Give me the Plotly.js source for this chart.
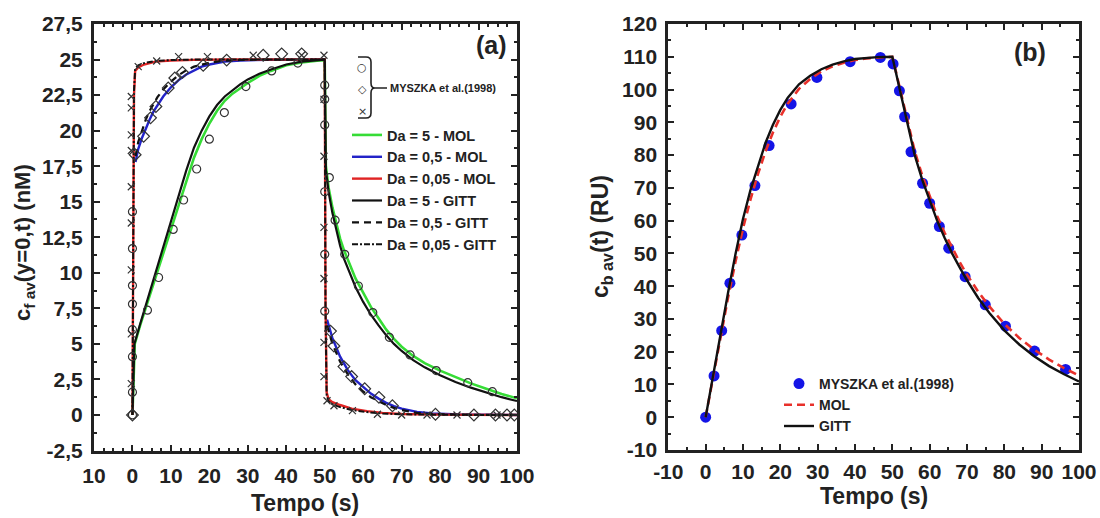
<!DOCTYPE html>
<html>
<head>
<meta charset="utf-8">
<script src="https://cdn.plot.ly/plotly-3.0.1.min.js"></script>
<style>html,body{margin:0;padding:0;background:#fff;}#chart{width:1100px;height:518px;}</style>
</head>
<body>
<div id="chart"></div>
<script>
// ---------- Panel (a) data ----------
const tA_mol5 = [0, 0.6, 2, 4, 6, 8, 10, 12, 14, 16, 18, 20, 22, 24, 26, 28, 30, 33, 36, 40, 44, 48, 50, 50.3, 51, 52, 53, 54, 55, 56, 58, 60, 62, 64, 66, 68, 70, 73, 76, 80, 84, 88, 92, 96, 100];
const cA_mol5 = [0, 5.0, 6.3, 8.0, 9.7, 11.4, 13.05, 14.7, 16.5, 18.1, 19.4, 20.5, 21.4, 22.1, 22.6, 23.0, 23.35, 23.85, 24.2, 24.6, 24.8, 24.92, 24.95, 17.5, 16.0, 14.6, 13.4, 12.4, 11.6, 10.9, 9.6, 8.6, 7.6, 6.8, 6.0, 5.35, 4.8, 4.15, 3.65, 3.12, 2.65, 2.22, 1.85, 1.48, 1.17];
const tA_gitt5 = [0, 0.5, 2, 4, 6, 8, 10, 12, 14, 16, 18, 20, 22, 24, 26, 28, 30, 33, 36, 40, 44, 48, 50, 50.3, 51, 52, 53, 54, 55, 56, 58, 60, 62, 64, 66, 68, 70, 73, 76, 80, 84, 88, 92, 96, 100];
const cA_gitt5 = [0, 5.0, 6.4, 8.2, 10.0, 11.9, 13.7, 15.5, 17.2, 18.8, 20.0, 21.0, 21.8, 22.4, 22.85, 23.25, 23.6, 24.0, 24.3, 24.65, 24.85, 24.95, 25.0, 17.2, 15.7, 14.2, 12.95, 11.9, 11.0, 10.3, 9.0, 7.95, 7.05, 6.3, 5.6, 5.0, 4.5, 3.85, 3.35, 2.8, 2.32, 1.92, 1.58, 1.25, 0.98];
const tA_mol05 = [0.8, 1.5, 2.5, 3.5, 4.5, 5.5, 6.5, 8, 10, 12, 14, 16, 18, 20, 24, 28, 35, 50, 50.3, 50.6, 52, 54, 56, 58, 60, 62, 64, 66, 68, 70, 74, 78, 85, 100];
const cA_mol05 = [17.8, 18.7, 19.5, 20.2, 20.8, 21.35, 21.8, 22.4, 23.05, 23.55, 23.95, 24.25, 24.5, 24.65, 24.85, 24.93, 24.98, 25.0, null, 6.7, 5.4, 4.1, 3.15, 2.45, 1.95, 1.5, 1.15, 0.85, 0.62, 0.45, 0.22, 0.1, 0.03, 0];
const cA_gitt05 = [18.2, 19.2, 20.0, 20.8, 21.4, 21.9, 22.35, 22.9, 23.45, 23.9, 24.25, 24.5, 24.65, 24.78, 24.92, 24.97, 25.0, 25.0, null, 6.3, 5.0, 3.75, 2.85, 2.15, 1.65, 1.25, 0.95, 0.7, 0.5, 0.35, 0.15, 0.06, 0.02, 0];
const tA_mol005 = [0, 0.2, 0.4, 0.7, 1.5, 3, 6, 10, 16, 25, 50, 50.2, 50.5, 51, 52, 54, 57, 61, 65, 70, 80, 100];
const cA_mol005 = [0, 12, 22.5, 24.2, 24.45, 24.65, 24.85, 24.93, 24.98, 25, 25, 8, 1.6, 1.1, 0.9, 0.7, 0.45, 0.27, 0.15, 0.07, 0.02, 0];
const cA_gitt005 = [0, 12.5, 22.8, 24.35, 24.6, 24.75, 24.9, 24.96, 25, 25, 25, 7.5, 1.4, 0.95, 0.75, 0.55, 0.35, 0.2, 0.1, 0.05, 0.01, 0];

// MYSZKA et al. (1998) experimental points, panel (a)
const tA_circ = [0, 0, 0, 0, 0, 0, 0, 0, 3.9, 6.8, 10.6, 13.3, 16.7, 20.0, 23.9, 29.5, 36.2, 43.0, 50, 50, 50, 50, 50, 50, 51.2, 52.7, 55.2, 58.75, 62.5, 66.8, 72.2, 79.0, 87.2, 93.6];
const cA_circ = [0, 1.6, 4.1, 6.0, 7.8, 9.1, 11.7, 14.3, 7.37, 9.67, 13.05, 15.12, 17.3, 19.4, 21.27, 23.1, 24.2, 24.75, 23.2, 22.2, 20.4, 15.7, 11.3, 7.3, 16.7, 13.7, 11.3, 9.07, 7.2, 5.46, 4.22, 3.12, 2.27, 1.64];
const tA_diam = [0, 0.7, 2.9, 4.7, 6.1, 9.3, 11.0, 13.0, 18.4, 24.5, 34, 38.8, 44, 51.5, 52.4, 55.0, 57.0, 60.4, 64.1, 67.6, 78.8, 88.8, 94.4, 97.4, 99.3];
const cA_diam = [0, 18.3, 19.6, 20.9, 21.7, 23.0, 23.7, 24.1, 24.6, 24.96, 25.3, 25.4, 25.4, 5.9, 4.85, 3.4, 2.7, 1.84, 1.24, 0.65, 0.05, 0, 0, 0, 0];
const tA_cross = [-0.3, -0.3, -0.3, -0.3, -0.3, -0.3, -0.3, -0.3, -0.3, 1.5, 6.3, 12, 19.5, 31.4, 44, 49.8, 49.8, 49.8, 49.8, 49.8, 49.8, 49.8, 50.6, 52.4, 57.2, 63.7, 70, 76.6, 84.4, 94.8];
const cA_cross = [2.2, 5.7, 10.2, 13.5, 16.05, 18.6, 19.7, 21.6, 22.4, 24.5, 24.9, 25.2, 25.2, 25.3, 25.3, 25.3, 22.2, 18.2, 13.2, 9.6, 5.1, 2.7, 1.0, 0.65, 0.3, 0.05, 0, 0, 0, 0];

const xTickA = [-10, 0, 10, 20, 30, 40, 50, 60, 70, 80, 90, 100];
const xTickTextA = ['10', '0', '10', '20', '30', '40', '50', '60', '70', '80', '90', '100'];
const yTickA = [-2.5, 0, 2.5, 5, 7.5, 10, 12.5, 15, 17.5, 20, 22.5, 25, 27.5];
const yTickTextA = ['-2,5', '0', '2,5', '5', '7,5', '10', '12,5', '15', '17,5', '20', '22,5', '25', '27,5'];

// ---------- Panel (b) data ----------
const tB_data = [0, 2.25, 4.3, 6.5, 9.7, 13.2, 17.0, 22.9, 29.8, 38.7, 46.8, 50.2, 51.9, 53.3, 55.0, 58.1, 60.0, 62.6, 65.1, 69.5, 74.9, 80.3, 88.1, 96.4];
const cB_data = [0, 12.6, 26.4, 40.9, 55.6, 70.7, 82.9, 95.6, 103.7, 108.5, 109.8, 107.8, 99.6, 91.7, 81.0, 71.4, 65.3, 58.2, 51.6, 42.9, 34.3, 27.8, 20.2, 14.6];
const tB_model = [0, 2, 4, 6, 8, 10, 12, 14, 16, 18, 20, 22, 25, 28, 31, 34, 37, 40, 43, 46, 50, 51, 52, 53, 54, 55, 56, 58, 60, 62, 64, 66, 68, 70, 73, 76, 80, 84, 88, 92, 96, 100];
const cB_gitt = [0, 12.8, 25.6, 38, 49.8, 60.5, 69.3, 76.8, 83.6, 89.2, 93.8, 97.5, 101.6, 104.2, 106.2, 107.6, 108.6, 109.3, 109.7, 109.9, 110.0, 105, 99.8, 94.6, 89.2, 84.2, 80, 72.5, 66, 60, 54.8, 50, 45.8, 41.8, 36.4, 31.8, 26.5, 22.2, 18.6, 15.6, 13.1, 10.9];
const cB_mol = [0, 12.3, 24.5, 36.5, 47.5, 57.6, 66.4, 74.2, 81.0, 86.8, 91.7, 95.7, 100.2, 103.2, 105.5, 107.1, 108.2, 109.0, 109.5, 109.8, 110.0, 105.3, 100.3, 95.4, 90.3, 85.5, 81.2, 73.8, 67.3, 61.4, 56.3, 51.6, 47.4, 43.5, 38.3, 33.8, 28.5, 24.2, 20.6, 17.6, 15.0, 12.7];

const xTickB = [-10, 0, 10, 20, 30, 40, 50, 60, 70, 80, 90, 100];
const xTickTextB = ['-10', '0', '10', '20', '30', '40', '50', '60', '70', '80', '90', '100'];
const yTickB = [-10, 0, 10, 20, 30, 40, 50, 60, 70, 80, 90, 100, 110, 120];
const yTickTextB = ['-10', '0', '10', '20', '30', '40', '50', '60', '70', '80', '90', '100', '110', '120'];

// ---------- styling ----------
const INK = '#222';
const FONT = 'Liberation Sans, Arial, sans-serif';
const W = 1100, H = 518;
const px = v => v / W;
const py = v => 1 - v / H;

function axis(extra) {
  return Object.assign({
    showline: true, linewidth: 3, linecolor: INK, mirror: 'ticks',
    ticks: 'inside', ticklen: 6, tickwidth: 2, tickcolor: INK,
    showgrid: false, zeroline: false, fixedrange: true,
    tickfont: {family: FONT, size: 21, color: INK, weight: 'bold'},
    tickmode: 'array'
  }, extra);
}

const lineA = (x, y, name, color, dash, width) => ({
  x, y, name, type: 'scatter', mode: 'lines', xaxis: 'x', yaxis: 'y', legend: 'legend',
  connectgaps: false, line: {color, width: width || 2.4, dash: dash || 'solid'}
});
const mk = (x, y, symbol, size) => ({
  x, y, type: 'scatter', mode: 'markers', xaxis: 'x', yaxis: 'y', showlegend: false,
  marker: {symbol, size, color: '#333', line: {color: '#333', width: 1.2}}
});

const traces = [
  lineA(tA_mol5, cA_mol5, 'Da = 5 - MOL', '#36dc36', 'solid', 2.6),
  lineA(tA_mol05, cA_mol05, 'Da = 0,5 - MOL', '#2323c8', 'solid', 2.4),
  lineA(tA_mol005, cA_mol005, 'Da = 0,05 - MOL', '#e02424', 'solid', 2.4),
  lineA(tA_gitt5, cA_gitt5, 'Da = 5 - GITT', '#111', 'solid', 2.2),
  lineA(tA_mol05, cA_gitt05, 'Da = 0,5 - GITT', '#111', '7px,5px', 2.2),
  lineA(tA_mol005, cA_gitt005, 'Da = 0,05 - GITT', '#111', '6px,2px,2px,2px', 2.0),
  mk(tA_circ, cA_circ, 'circle-open', 8),
  mk(tA_diam, cA_diam, 'diamond-open', 9),
  mk(tA_cross, cA_cross, 'x-thin-open', 7),
  {x: tB_data, y: cB_data, name: 'MYSZKA et al.(1998)', type: 'scatter', mode: 'markers',
   xaxis: 'x2', yaxis: 'y2', legend: 'legend2', marker: {symbol: 'circle', size: 11, color: '#1414e6'}},
  {x: tB_model, y: cB_mol, name: 'MOL', type: 'scatter', mode: 'lines',
   xaxis: 'x2', yaxis: 'y2', legend: 'legend2', line: {color: '#e8302a', width: 2.6, dash: '8px,5px'}},
  {x: tB_model, y: cB_gitt, name: 'GITT', type: 'scatter', mode: 'lines',
   xaxis: 'x2', yaxis: 'y2', legend: 'legend2', line: {color: '#111', width: 2.4}}
];

const bracePath = (() => {
  const P = (x, y) => px(x).toFixed(5) + ',' + py(y).toFixed(5);
  return 'M' + P(358, 57) + ' L' + P(366, 57) + ' Q' + P(371, 57) + ' ' + P(371, 62) +
    ' L' + P(371, 83) + ' Q' + P(371, 88) + ' ' + P(375, 88) + ' L' + P(387, 88) +
    ' M' + P(375, 88) + ' Q' + P(371, 88) + ' ' + P(371, 93) + ' L' + P(371, 113) +
    ' Q' + P(371, 118) + ' ' + P(366, 118) + ' L' + P(358, 118);
})();

const bold = (size) => ({family: FONT, size, color: INK, weight: 'bold'});
const ann = (text, x, y, size, extra) => Object.assign({
  text, x: px(x), y: py(y), xref: 'paper', yref: 'paper', showarrow: false,
  font: bold(size), xanchor: 'center', yanchor: 'middle'
}, extra || {});
const sym = {family: 'DejaVu Sans', size: 11, color: '#333'};

const layout = {
  width: W, height: H,
  margin: {l: 0, r: 0, t: 0, b: 0},
  paper_bgcolor: '#fff', plot_bgcolor: '#fff',
  font: {family: FONT, color: INK},
  showlegend: true,
  xaxis: axis({domain: [px(94), px(517)], range: [-10, 100], anchor: 'y',
    tickvals: xTickA, ticktext: xTickTextA, ticklabelstandoff: 4,
    minor: {tickmode: 'linear', tick0: 0, dtick: 2.5, ticks: 'inside', ticklen: 3, tickwidth: 2, tickcolor: INK}}),
  yaxis: axis({domain: [py(450.5), py(24)], range: [-2.5, 27.5], anchor: 'x',
    tickvals: yTickA, ticktext: yTickTextA, ticklabelstandoff: 4,
    minor: {tickmode: 'linear', tick0: 0, dtick: 1.25, ticks: 'inside', ticklen: 3, tickwidth: 2, tickcolor: INK}}),
  xaxis2: axis({domain: [px(668.3), px(1079)], range: [-10, 100], anchor: 'y2',
    tickvals: xTickB, ticktext: xTickTextB, ticklabelstandoff: 1,
    minor: {tickmode: 'linear', tick0: 0, dtick: 5, ticks: 'inside', ticklen: 3, tickwidth: 2, tickcolor: INK}}),
  yaxis2: axis({domain: [py(450), py(24)], range: [-10, 120], anchor: 'x2',
    tickvals: yTickB, ticktext: yTickTextB, ticklabelstandoff: 4,
    minor: {tickmode: 'linear', tick0: 0, dtick: 5, ticks: 'inside', ticklen: 3, tickwidth: 2, tickcolor: INK}}),
  legend: {x: px(347), y: py(119), xanchor: 'left', yanchor: 'top', bgcolor: 'rgba(0,0,0,0)',
    font: bold(14.5), tracegroupgap: 0, itemwidth: 30, traceorder: 'normal'},
  legend2: {x: px(779), y: py(368), xanchor: 'left', yanchor: 'top', bgcolor: 'rgba(0,0,0,0)',
    font: bold(14), tracegroupgap: 0, itemwidth: 30, traceorder: 'normal'},
  shapes: [{type: 'path', xref: 'paper', yref: 'paper', path: bracePath, line: {color: INK, width: 1.6}}],
  annotations: [
    ann('(a)', 491, 45, 25),
    ann('(b)', 1030, 52, 25),
    ann('○', 362, 68, 11, {font: sym}),
    ann('◇', 362, 90, 11, {font: sym}),
    ann('×', 362, 111, 11, {font: sym}),
    ann('MYSZKA et al.(1998)', 388, 88, 11, {xanchor: 'left'}),
    ann('Tempo (s)', 305, 503, 23),
    ann('Tempo (s)', 874, 496, 23),
    ann('c<sub>f av</sub>(y=0,t) (nM)', 24, 243, 22, {textangle: -90}),
    ann('c<sub>b av</sub>(t) (RU)', 601, 237, 23, {textangle: -90})
  ]
};

Plotly.newPlot('chart', traces, layout, {staticPlot: true, displayModeBar: false});
</script>
</body>
</html>
